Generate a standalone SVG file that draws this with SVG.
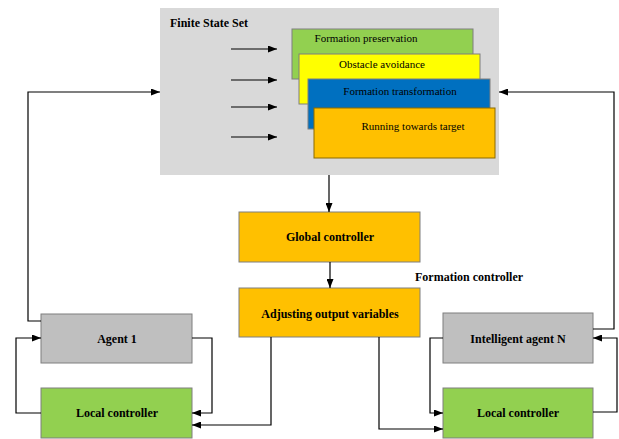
<svg xmlns="http://www.w3.org/2000/svg" width="619" height="439" viewBox="0 0 619 439" font-family="'Liberation Serif', 'DejaVu Serif', serif">
<defs>
<marker id="ah" markerWidth="9" markerHeight="7" refX="9" refY="3.5" orient="auto" markerUnits="userSpaceOnUse">
<path d="M0,0 L9,3.5 L0,7 Z" fill="#000"/>
</marker>
<style>
.box{stroke:#7f7f7f;stroke-width:1}
.lbl{font-family:'Liberation Serif','DejaVu Serif',serif;font-size:12px;font-weight:bold;fill:#000;text-anchor:middle}
.st{font-family:'Liberation Serif','DejaVu Serif',serif;font-size:11px;fill:#000;text-anchor:middle}
.ar{fill:none;stroke:#000;stroke-width:1.2;marker-end:url(#ah)}
</style>
</defs>
<rect width="619" height="439" fill="#fff"/>

<g id="finite-state-set">
<rect x="160" y="8" width="339" height="167" fill="#d9d9d9"/>
<text x="170" y="27" class="lbl" text-anchor="start" style="text-anchor:start">Finite State Set</text>
</g>

<g id="formation-preservation">
<rect x="292" y="29" width="181" height="50" fill="#92d050" class="box"/>
<text x="366" y="42" class="st">Formation preservation</text>
</g>
<g id="obstacle-avoidance">
<rect x="299" y="54" width="181" height="50" fill="#ffff00" class="box"/>
<text x="382" y="68" class="st">Obstacle avoidance</text>
</g>
<g id="formation-transformation">
<rect x="308" y="79" width="182" height="50" fill="#0070c0" class="box"/>
<text x="400" y="95" class="st">Formation transformation</text>
</g>
<g id="running-towards-target">
<rect x="314" y="108" width="181" height="50" fill="#ffc000" stroke="#8c6a00" stroke-width="1"/>
<text x="413" y="130" class="st">Running towards target</text>
</g>

<g id="global-controller">
<rect x="239" y="212" width="181" height="50" fill="#ffc000" class="box"/>
<text x="330" y="241" class="lbl">Global controller</text>
</g>
<g id="adjusting-output-variables">
<rect x="239" y="288" width="181" height="49" fill="#ffc000" class="box"/>
<text x="330" y="318" class="lbl">Adjusting output variables</text>
</g>
<g id="formation-controller-label">
<text x="415" y="281" class="lbl" style="text-anchor:start">Formation controller</text>
</g>

<g id="agent-1">
<rect x="41" y="314" width="151" height="49" fill="#bfbfbf" class="box"/>
<text x="117" y="343" class="lbl">Agent 1</text>
</g>
<g id="local-controller-1">
<rect x="41" y="388" width="151" height="50" fill="#92d050" class="box"/>
<text x="117" y="417" class="lbl">Local controller</text>
</g>
<g id="intelligent-agent-n">
<rect x="443" y="313" width="150" height="50" fill="#bfbfbf" class="box"/>
<text x="518" y="343" class="lbl">Intelligent agent N</text>
</g>
<g id="local-controller-n">
<rect x="443" y="388" width="150" height="50" fill="#92d050" class="box"/>
<text x="518" y="417" class="lbl">Local controller</text>
</g>

<g id="connectors">
<line x1="231" y1="49" x2="277" y2="49" class="ar"/>
<line x1="231" y1="80" x2="277" y2="80" class="ar"/>
<line x1="231" y1="107" x2="277" y2="107" class="ar"/>
<line x1="231" y1="137" x2="277" y2="137" class="ar"/>
<line x1="329" y1="175" x2="329" y2="212" class="ar"/>
<line x1="330" y1="262" x2="330" y2="288" class="ar"/>
<polyline points="41,321 28,321 28,92 160,92" class="ar"/>
<polyline points="593,329 614,329 614,92 499,92" class="ar"/>
<polyline points="192,338 212,338 212,413 192,413" class="ar"/>
<polyline points="41,413 16,413 16,338 41,338" class="ar"/>
<polyline points="271,337 271,425 192,425" class="ar"/>
<polyline points="379,337 379,429 443,429" class="ar"/>
<polyline points="443,338 430,338 430,413 443,413" class="ar"/>
<polyline points="593,412 617,412 617,338 593,338" class="ar"/>
</g>
</svg>
